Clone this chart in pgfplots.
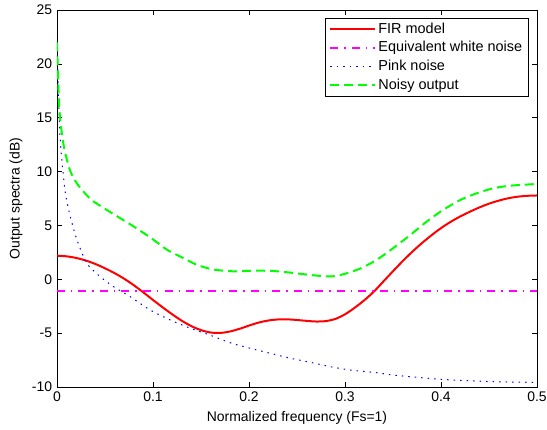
\documentclass[border=0pt]{standalone}
\usepackage{fontspec}
\setmainfont{Liberation Sans}
\usepackage{pgfplots}
\pgfplotsset{compat=1.18}
\definecolor{mred}{rgb}{1,0,0}
\definecolor{mmag}{rgb}{1,0,1}
\definecolor{mblue}{rgb}{0,0,1}
\definecolor{mgreen}{rgb}{0,1,0}
\begin{document}
\fontsize{14}{16}\selectfont
\begin{tikzpicture}
\begin{axis}[
  scale only axis,
  width=480bp, height=377bp,
  xmin=0, xmax=0.5, ymin=-10, ymax=25,
  xtick={0,0.1,...,0.5}, ytick={-10,-5,...,25},
  xticklabels={0,0.1,0.2,0.3,0.4,0.5},
  /pgf/number format/assume math mode=true,
  tick align=inside, tick pos=both, major tick length=5bp,
  every tick/.style={black, line width=0.5pt},
  axis line style={black, line width=0.6pt},
  tick label style={font=\fontsize{14}{16}\selectfont},
  label style={font=\fontsize{14}{16}\selectfont},
  xlabel={Normalized frequency (Fs=1)},
  ylabel={Output spectra (dB)},
  legend cell align=left,
  legend style={at={(0.982,0.979)}, anchor=north east, draw=black, line width=0.5pt,
    font=\fontsize{14.5}{16}\selectfont, row sep=2.3pt, inner xsep=4pt, inner ysep=2.5pt},
  legend image code/.code={\draw[#1] (0bp,0bp) -- (45bp,0bp);},
]
\addplot[mred, line width=2pt, smooth, tension=0.5] coordinates {
(0,2.19) (0.01,2.13) (0.02,1.98) (0.03,1.74) (0.04,1.42) (0.05,1.02) (0.06,0.57) (0.07,0.05)
(0.08,-0.55) (0.09,-1.22) (0.1,-1.92) (0.11,-2.6) (0.12,-3.25) (0.13,-3.85) (0.14,-4.35)
(0.15,-4.72) (0.16,-4.94) (0.17,-4.98) (0.18,-4.85) (0.19,-4.6) (0.2,-4.3) (0.21,-4.02)
(0.22,-3.83) (0.23,-3.73) (0.24,-3.72) (0.25,-3.78) (0.26,-3.86) (0.27,-3.92) (0.28,-3.88)
(0.29,-3.68) (0.3,-3.25) (0.31,-2.65) (0.32,-1.95) (0.33,-1.15) (0.34,-0.2) (0.35,0.75)
(0.36,1.68) (0.37,2.55) (0.38,3.35) (0.39,4.08) (0.4,4.75) (0.41,5.33) (0.42,5.83) (0.43,6.27)
(0.44,6.67) (0.45,7.02) (0.46,7.3) (0.47,7.52) (0.48,7.67) (0.49,7.75) (0.5,7.78)};
\addlegendentry{FIR model}
\addplot[mmag, line width=2pt, dash pattern=on 8bp off 6bp on 1.5bp off 6bp] coordinates {
(0,-1.05) (0.5,-1.05)};
\addlegendentry{Equivalent white noise}
\addplot[mblue, line width=1pt, dash pattern=on 1.5bp off 5bp, smooth, tension=0.4] coordinates {
(0,22) (0.0005,20.5) (0.0015,17) (0.003,13.5) (0.005,11.1) (0.0087,8.0) (0.0139,5.8) (0.0208,3.65)
(0.031,1.49) (0.045,0.24) (0.059,-0.69) (0.076,-1.6) (0.097,-2.85) (0.118,-3.78) (0.139,-4.55)
(0.159,-5.17) (0.18,-5.88) (0.201,-6.4) (0.222,-6.87) (0.243,-7.33) (0.2635,-7.7) (0.284,-8.1)
(0.305,-8.42) (0.333,-8.67) (0.35,-8.89) (0.4,-9.29) (0.4545,-9.51) (0.5,-9.57)};
\addlegendentry{Pink noise}
\addplot[mgreen, line width=2pt, dash pattern=on 9bp off 5bp, smooth, tension=0.4] coordinates {
(0,22.0) (0.002,16.5) (0.004,14.3) (0.007,12.4) (0.01,11.2) (0.014,10.0) (0.02,9.0) (0.026,8.3)
(0.036,7.36) (0.052,6.43) (0.069,5.5) (0.083,4.73) (0.1,3.7) (0.115,2.72) (0.132,1.95) (0.146,1.33)
(0.163,0.9) (0.184,0.74) (0.205,0.8) (0.225,0.77) (0.243,0.62) (0.264,0.4) (0.284,0.26) (0.298,0.46)
(0.316,1.0) (0.333,1.8) (0.35,2.88) (0.368,4.11) (0.385,5.35) (0.402,6.43) (0.42,7.36) (0.437,7.98)
(0.4545,8.45) (0.472,8.69) (0.5,8.85)};
\addlegendentry{Noisy output}
\end{axis}
\pgfresetboundingbox
\path ([shift={(-57bp,-43bp)}]current axis.south west) rectangle ([shift={(10bp,10bp)}]current axis.north east);
\end{tikzpicture}
\end{document}
